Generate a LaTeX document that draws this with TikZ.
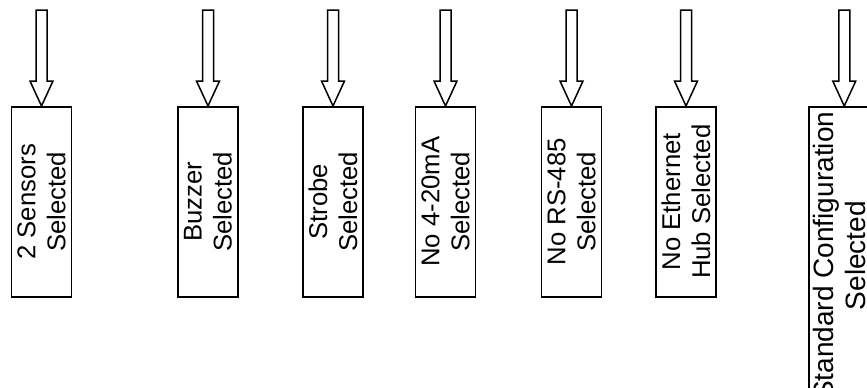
\documentclass[tikz,border=0pt]{standalone}
\usepackage{fontspec}
\setmainfont{Liberation Sans}
\usetikzlibrary{calc}
\begin{document}
\begin{tikzpicture}[x=1bp,y=-1bp,line width=1.5bp,
  box/.style={draw,rectangle,inner sep=0pt,minimum width=60bp,minimum height=190bp,anchor=north},
  lbl/.style={rotate=90,align=center,inner sep=0pt,font=\fontsize{25.7bp}{30bp}\selectfont},
  biglbl/.style={lbl,font=\fontsize{28bp}{32bp}\selectfont},
  blockarrow/.style={draw,line join=miter}]
\useasboundingbox (0,0) rectangle (867,387);
% boxes
\node[box] (b1) at (41.5,106) {};
\node[box] (b2) at (208,106) {};
\node[box] (b3) at (333,106) {};
\node[box] (b4) at (445.5,106) {};
\node[box] (b5) at (571.5,106) {};
\node[box] (b6) at (686,106) {};
\node[box,minimum width=62bp,minimum height=304bp] (b7) at (840,106) {};
% labels
\node[lbl] (t1) at (b1.center) {2 Sensors\\Selected};
\node[lbl] (t2) at (b2.center) {Buzzer\\Selected};
\node[lbl] (t3) at (b3.center) {Strobe\\Selected};
\node[lbl] (t4) at (b4.center) {No 4-20mA\\Selected};
\node[lbl] (t5) at (b5.center) {No RS-485\\Selected};
\node[lbl] (t6) at (b6.center) {No Ethernet\\Hub Selected};
\node[biglbl] (t7) at ($(b7.center)+(-1,-3)$) {Standard Configuration\\Selected};
% arrow tips
\coordinate (a1) at (b1.north);
\coordinate (a2) at (b2.north);
\coordinate (a3) at (b3.north);
\coordinate (a4) at (b4.north);
\coordinate (a5) at (b5.north);
\coordinate (a6) at (b6.north);
\coordinate (a7) at ($(b7.north west)+(36,0)$);
% block arrows
\foreach \a in {a1,a2,a3,a4,a5,a6,a7}{
  \draw[blockarrow] (\a) -- ++(-11.5,-25) -- ++(6,0) -- ++(0,-71) -- ++(11,0) -- ++(0,71) -- ++(6,0) -- cycle;
}
\end{tikzpicture}
\end{document}
